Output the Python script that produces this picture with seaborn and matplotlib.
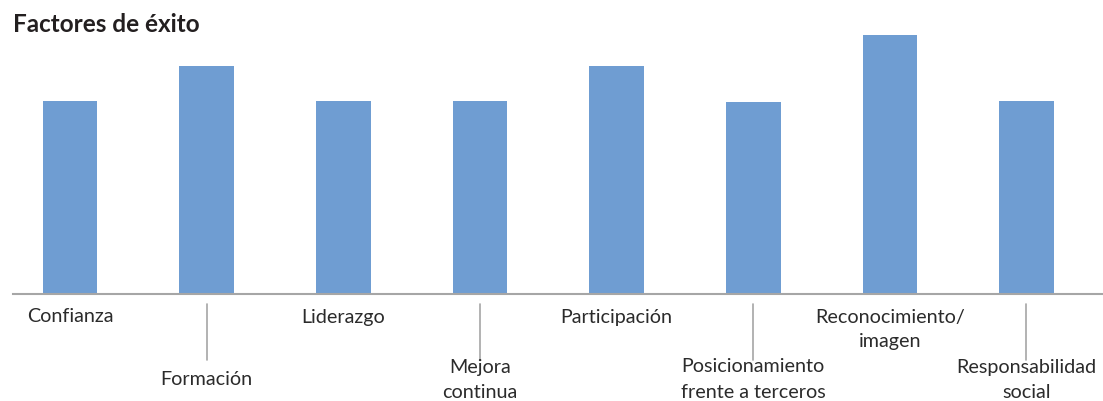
import matplotlib
matplotlib.use("Agg")
import matplotlib.pyplot as plt
import matplotlib.transforms as mtransforms
import seaborn as sns
import pandas as pd

# Factors and their scores
categories = [
    "Confianza",
    "Formación",
    "Liderazgo",
    "Mejora\ncontinua",
    "Participación",
    "Posicionamiento\nfrente a terceros",
    "Reconocimiento/\nimagen",
    "Responsabilidad\nsocial",
]
values = [62, 73, 62, 62, 73, 61.5, 83, 62]
title = "Factores de éxito"

W, H = 1103, 401
sns.set_theme(style="white")
plt.rcParams["font.family"] = ["Lato", "DejaVu Sans"]

fig = plt.figure(figsize=(W / 100, H / 100), dpi=100)
ax = fig.add_axes([13 / W, 1 - 294 / H, 1 - 13 / W, (294 - 35) / H])

df = pd.DataFrame({"factor": categories, "valor": values})
sns.barplot(data=df, x="factor", y="valor", color="#6F9DD2", width=0.4,
            saturation=1, linewidth=0, ax=ax)

ax.set_xlim(-0.417, 7.56)
ax.set_ylim(0, 83)
ax.set_xlabel("")
ax.set_ylabel("")
ax.set_yticks([])
ax.set_xticks(range(len(categories)))
ax.set_xticklabels([])
ax.tick_params(axis="x", length=0)
for side in ("top", "left", "right"):
    ax.spines[side].set_visible(False)
ax.spines["bottom"].set_color("#A6A6A6")
ax.spines["bottom"].set_linewidth(1.5)

# x in data units, y in figure pixels measured from the top
trans = mtransforms.blended_transform_factory(ax.transData, fig.transFigure)

def fy(px):
    return 1 - px / H

line_gap = 25
for i, label in enumerate(categories):
    lines = label.split("\n")
    if i % 2 == 0:
        first = 317
    else:
        center = 379.5
        first = center - (len(lines) - 1) * line_gap / 2
        ax.plot([i, i], [fy(304), fy(360)], transform=trans, color="#A6A6A6",
                lw=1.2, clip_on=False)
    for k, ln in enumerate(lines):
        ax.text(i, fy(first + k * line_gap), ln, transform=trans,
                ha="center", va="center", fontsize=14.2, color="#2B2B2B")

fig.text(13 / W, fy(25), title, ha="left", va="center", fontsize=17.5,
         fontweight="bold", color="#231F20")

fig.savefig("out.png", dpi=100)
